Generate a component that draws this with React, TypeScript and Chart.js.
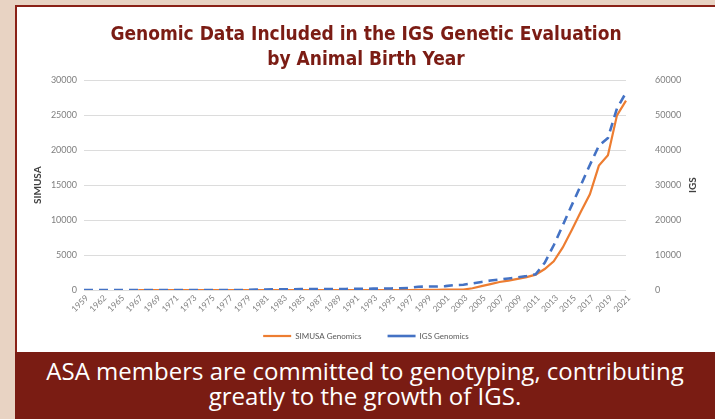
import React, { useEffect, useRef } from 'react';
import { Chart, registerables } from 'chart.js';

Chart.register(...registerables);

const titleLines = ['Genomic Data Included in the IGS Genetic Evaluation', 'by Animal Birth Year'];
const leftAxisTitle = 'SIMUSA';
const rightAxisTitle = 'IGS';
const bannerLines = ['ASA members are committed to genotyping, contributing', 'greatly to the growth of IGS.'];

const years = [
  '1959', '1960', '1962', '1963', '1965', '1966',
  '1967', '1968', '1969', '1970', '1971', '1972', '1973', '1974', '1975', '1976',
  '1977', '1978', '1979', '1980', '1981', '1982', '1983', '1984', '1985', '1986',
  '1987', '1988', '1989', '1990', '1991', '1992', '1993', '1994', '1995', '1996',
  '1997', '1998', '1999', '2000', '2001', '2002', '2003', '2004', '2005', '2006',
  '2007', '2008', '2009', '2010', '2011', '2012', '2013', '2014', '2015', '2016',
  '2017', '2018', '2019', '2020', '2021',
];

const shownTickLabels = [
  '1959', '1962', '1965', '1967', '1969', '1971', '1973', '1975', '1977', '1979',
  '1981', '1983', '1985', '1987', '1989', '1991', '1993', '1995', '1997', '1999',
  '2001', '2003', '2005', '2007', '2009', '2011', '2013', '2015', '2017', '2019', '2021',
];

const simusaGenomics = [
  null, null, null, null, null, null,
  0, 0, 0, 0, 0, 0, 0, 0, 0, 0,
  0, 0, 0, 0, 0, 0, 0, 0, 0, 0,
  0, 0, 0, 0, 0, 0, 0, 0, 0, 0,
  0, 20, 30, 30, 40, 40, 60, 250, 550, 850,
  1150, 1350, 1600, 1850, 2200, 3000, 4100, 6100, 8600, 11200,
  13700, 17800, 19300, 25000, 27100,
];

const igsGenomics = [
  0, 0, 0, 0, 0, 0,
  0, 0, 0, 0, 0, 0, 0, 0, 0, 0,
  0, 0, 0, 150, 150, 200, 200, 200, 250, 250,
  300, 300, 300, 300, 350, 350, 400, 400, 450, 500,
  600, 950, 1000, 1000, 1100, 1400, 1500, 1900, 2300, 2700,
  3000, 3300, 3600, 4000, 4500, 7800, 12800, 18500, 24300, 30000,
  35800, 41300, 43500, 52000, 56500,
];

const leftTicks = { min: 0, max: 30000, step: 5000 };
const rightTicks = { min: 0, max: 60000, step: 10000 };

const tickFont = "Lato, 'Liberation Sans', sans-serif";
const titleFont = "'DejaVu Sans Condensed', 'DejaVu Sans', sans-serif";

const rightTitlePlugin = {
  id: 'rightTitle',
  afterLayout(chart: any) {
    // let the rotated year labels use the room above the legend
    const x = chart.scales.x;
    x.bottom = x.top + 38;
    x.height = 38;
  },
  afterDraw(chart: any) {
    const s = chart.scales.y1;
    const ctx = chart.ctx;
    ctx.save();
    ctx.translate(s.right - 22, (chart.chartArea.top + chart.chartArea.bottom) / 2);
    ctx.rotate(-Math.PI / 2);
    ctx.font = `bold 10px ${tickFont}`;
    ctx.fillStyle = '#404040';
    ctx.textAlign = 'center';
    ctx.textBaseline = 'middle';
    ctx.fillText(rightAxisTitle, 0, 0);
    ctx.restore();
  },
};

export default function App() {
  const canvasRef = useRef<HTMLCanvasElement | null>(null);

  useEffect(() => {
    if (!canvasRef.current) return;
    const chart = new Chart(canvasRef.current, {
      type: 'line',
      data: {
        labels: years,
        datasets: [
          {
            label: 'SIMUSA Genomics',
            data: simusaGenomics,
            yAxisID: 'y',
            borderColor: '#ed7d31',
            backgroundColor: '#ed7d31',
            borderWidth: 2.2,
            pointRadius: 0,
            tension: 0,
            order: 2,
          },
          {
            label: 'IGS Genomics',
            data: igsGenomics,
            yAxisID: 'y1',
            borderColor: '#4472c4',
            backgroundColor: '#4472c4',
            borderWidth: 2.6,
            borderDash: [9, 6],
            pointRadius: 0,
            tension: 0,
            order: 1,
          },
        ],
      },
      options: {
        animation: false,
        responsive: false,
        layout: { padding: { left: 0, right: 0, top: 0, bottom: 2 } },
        plugins: {
          title: {
            display: true,
            text: titleLines,
            color: '#7b1c14',
            font: { family: titleFont, size: 19, weight: 'bold', lineHeight: 1.3 },
            padding: { top: 16, bottom: 8 },
          },
          legend: {
            position: 'bottom',
            labels: {
              usePointStyle: true,
              pointStyle: 'line',
              pointStyleWidth: 28,
              color: '#595959',
              font: { family: tickFont, size: 8 },
              padding: 26,
              sort: (a: any, b: any) => a.datasetIndex - b.datasetIndex,
            },
          },
          tooltip: { enabled: false },
        },
        scales: {
          x: {
            type: 'category',
            offset: false,
            grid: { display: false, drawTicks: false },
            border: { display: false },
            ticks: {
              autoSkip: false,
              maxRotation: 45,
              minRotation: 45,
              color: '#7f7f7f',
              font: { family: tickFont, size: 8.5 },
              padding: 3,
              labelOffset: 3,
              callback: function (this: any, value: any) {
                const lbl = this.getLabelForValue(value);
                return shownTickLabels.includes(lbl) ? lbl : '';
              },
            },
            afterFit: (s: any) => { s.height = 16; },
          },
          y: {
            position: 'left',
            min: leftTicks.min,
            max: leftTicks.max,
            ticks: {
              stepSize: leftTicks.step,
              color: '#7f7f7f',
              font: { family: tickFont, size: 9 },
              padding: 7,
              callback: (v: any) => String(v),
            },
            grid: { color: '#dcdcdc', drawTicks: false, lineWidth: 1 },
            border: { display: false },
            title: {
              display: true,
              text: leftAxisTitle,
              color: '#404040',
              font: { family: tickFont, size: 10, weight: 'bold' },
              padding: { top: 15, bottom: 0 },
            },
            afterFit: (s: any) => { s.width = 67; },
          },
          y1: {
            position: 'right',
            min: rightTicks.min,
            max: rightTicks.max,
            ticks: {
              stepSize: rightTicks.step,
              color: '#7f7f7f',
              font: { family: tickFont, size: 9 },
              padding: 29,
              callback: (v: any) => String(v),
            },
            grid: { display: false, drawTicks: false },
            border: { display: false },
            afterFit: (s: any) => { s.width = 89; },
          },
        },
      } as any,
      plugins: [rightTitlePlugin],
    });
    return () => chart.destroy();
  }, []);

  return (
    <div style={{ position: 'fixed', left: 0, top: 0, width: 715, height: 419, background: '#e8d3c3', overflow: 'hidden' }}>
      <div style={{ position: 'absolute', left: 15, top: 5, width: 700, height: 2, background: '#8a2117' }} />
      <div style={{ position: 'absolute', left: 15, top: 5, width: 2, height: 350, background: '#8a2117' }} />
      <div style={{ position: 'absolute', left: 17, top: 7, width: 698, height: 345, background: '#ffffff' }}>
        <canvas ref={canvasRef} width={698} height={345} style={{ display: 'block', width: 698, height: 345 }} />
      </div>
      <div
        style={{
          position: 'absolute', left: 15, top: 352, width: 700, height: 67, background: '#7a1c13',
          color: '#ffffff', textAlign: 'center', fontFamily: "'Open Sans', 'Noto Sans', sans-serif",
          fontSize: 24, lineHeight: '25px', paddingTop: 6, boxSizing: 'border-box', whiteSpace: 'nowrap',
        }}
      >
        {bannerLines.map((l, i) => (<div key={i}>{l}</div>))}
      </div>
    </div>
  );
}
